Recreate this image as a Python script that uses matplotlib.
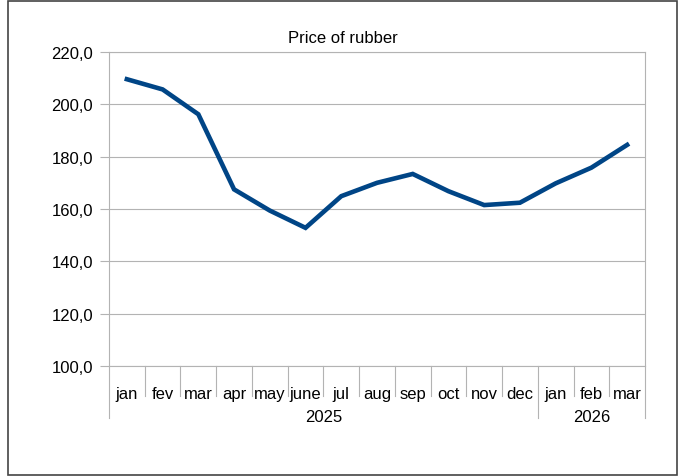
import matplotlib
matplotlib.use("Agg")
import matplotlib.pyplot as plt
from matplotlib.patches import Rectangle

# donnees
months = ["jan", "fev", "mar", "apr", "may", "june", "jul", "aug", "sep",
          "oct", "nov", "dec", "jan", "feb", "mar"]
prices = [209.6, 205.7, 196.2, 167.5, 159.4, 152.8, 164.9, 170.0, 173.4,
          166.8, 161.5, 162.4, 169.8, 175.8, 184.5]
years = ["2025", "2026"]
year_counts = [12, 3]
y_ticks = [100, 120, 140, 160, 180, 200, 220]

plt.rcParams["font.family"] = ["Liberation Sans", "DejaVu Sans"]
plt.rcParams["font.size"] = 12

grey = "#b3b3b3"
W, H = 684, 477
fig = plt.figure(figsize=(W / 100, H / 100), dpi=100)

# zone du graphe en pixels
left, right, top, bottom = 109, 645, 53, 367
ax = fig.add_axes([left / W, 1 - bottom / H, (right - left) / W, (bottom - top) / H])

x = list(range(len(months)))
ax.plot(x, prices, color="#004586", lw=3.3, solid_joinstyle="miter", zorder=3)

ax.set_xlim(-0.5, len(months) - 0.5)
ax.set_ylim(y_ticks[0], y_ticks[-1])
ax.set_yticks(y_ticks)
ax.set_yticklabels([f"{v:.1f}".replace(".", ",") for v in y_ticks])
ax.tick_params(axis="y", length=6.5, width=0.8, color=grey, pad=5)
ax.tick_params(axis="x", length=0, labelbottom=False)
ax.grid(axis="y", color=grey, lw=0.8)
for s in ax.spines.values():
    s.set_color(grey)
    s.set_linewidth(0.8)

# separateurs de categories sous l'axe
ax_h = bottom - top
short = -30 / ax_h
long_ = -52 / ax_h
bounds_long = [0]
acc = 0
for c in year_counts:
    acc += c
    bounds_long.append(acc)
tr = ax.get_xaxis_transform()
for b in range(len(months) + 1):
    y_end = long_ if b in bounds_long else short
    ax.plot([b - 0.5, b - 0.5], [0, y_end], color=grey, lw=0.8,
            transform=tr, clip_on=False)

for i, m in enumerate(months):
    ax.annotate(m, xy=(i, 0), xycoords=tr, xytext=(0, -23),
                textcoords="offset points", ha="center", va="baseline")

start = 0
for yr, c in zip(years, year_counts):
    mid = start + c / 2 - 0.5
    ax.annotate(yr, xy=(mid, 0), xycoords=tr, xytext=(0, -39.4),
                textcoords="offset points", ha="center", va="baseline")
    start += c

fig.text(343 / W, 1 - 42.7 / H, "Price of rubber", ha="center", va="baseline")

# cadre exterieur
fig.patches.append(Rectangle((8 / W, 1 - 476 / H), 669 / W, 474 / H,
                             transform=fig.transFigure, fill=False,
                             edgecolor="#444444", lw=1.2))

fig.savefig("out.png", dpi=100)
